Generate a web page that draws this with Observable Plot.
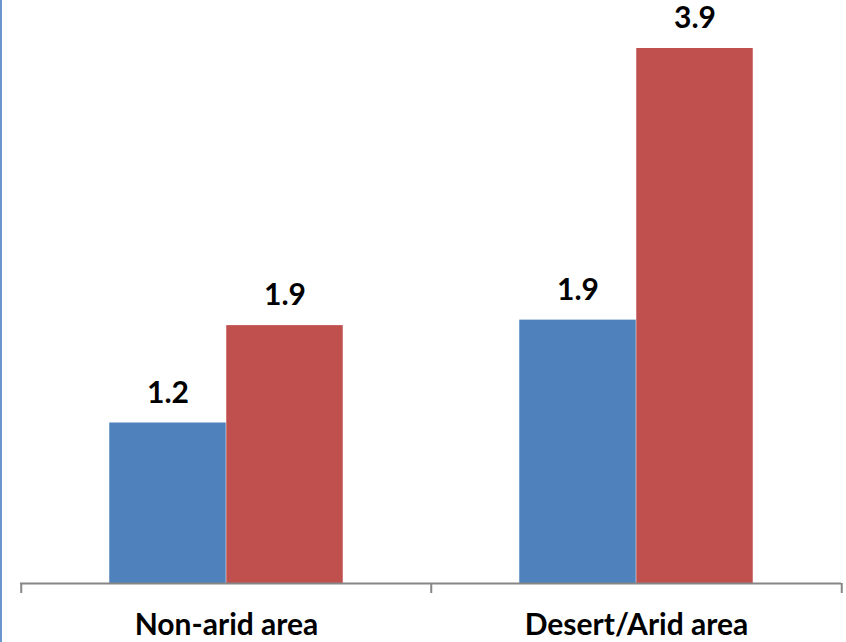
<!DOCTYPE html>
<html>
<head>
<meta charset="utf-8">
<script src="https://cdn.jsdelivr.net/npm/d3@7"></script>
<script src="https://cdn.jsdelivr.net/npm/@observablehq/plot@0.6"></script>
<style>
  html, body { margin: 0; padding: 0; background: #fff; }
  #wrap { width: 846px; height: 642px; position: relative; overflow: hidden; }
  #wrap::before { content: ""; position: absolute; left: 0; top: 0; bottom: 0; width: 2px; background: #6a95cf; }
</style>
</head>
<body>
<div id="wrap"></div>
<script>
const categories = ["Non-arid area", "Desert/Arid area"];
const seriesNames = ["Series 1", "Series 2"];
const series1 = [1.17, 1.92];
const series2 = [1.88, 3.9];

const data = [];
categories.forEach((c, i) => {
  data.push({category: c, series: seriesNames[0], value: series1[i]});
  data.push({category: c, series: seriesNames[1], value: series2[i]});
});

const W = 846, H = 642;
const mL = 20, mR = 5, mT = 0, mB = 59;
const bw = (W - mL - mR) / categories.length;
const barW = 117;
const sideGap = (bw - 2 * barW) / 2;
const font = "Lato, 'Open Sans', sans-serif";
const fmt = d3.format(".1f");

const s1 = data.filter(d => d.series === seriesNames[0]);
const s2 = data.filter(d => d.series === seriesNames[1]);

const chart = Plot.plot({
  width: W, height: H,
  marginLeft: mL, marginRight: mR, marginTop: mT, marginBottom: mB,
  style: {fontFamily: font, background: "transparent"},
  x: {domain: categories, padding: 0},
  y: {domain: [0, 4.25], axis: null},
  color: {domain: seriesNames, range: ["#4f81bd", "#c0504d"]},
  marks: [
    Plot.barY(s1, {x: "category", y: "value", fill: "series", insetLeft: sideGap, insetRight: bw - sideGap - barW}),
    Plot.barY(s2, {x: "category", y: "value", fill: "series", insetLeft: sideGap + barW, insetRight: sideGap}),
    Plot.text(s1, {x: "category", y: "value", text: d => fmt(d.value), dx: -barW / 2, dy: -30, fontSize: 30, fontWeight: "bold", fill: "#000"}),
    Plot.text(s2, {x: "category", y: "value", text: d => fmt(d.value), dx: barW / 2, dy: -30, fontSize: 30, fontWeight: "bold", fill: "#000"}),
    Plot.ruleY([0], {stroke: "#868686", strokeWidth: 2}),
    Plot.ruleX(categories, {x: d => d, dx: -bw / 2, insetTop: H - mT - mB, insetBottom: -10, stroke: "#868686", strokeWidth: 2}),
    Plot.ruleX(categories.slice(-1), {x: d => d, dx: bw / 2, insetTop: H - mT - mB, insetBottom: -10, stroke: "#868686", strokeWidth: 2}),
    Plot.axisX({tickSize: 0, tickPadding: 30, fontSize: 30, fontWeight: "bold", fill: "#000", label: null})
  ]
});
document.getElementById("wrap").appendChild(chart);
</script>
</body>
</html>
